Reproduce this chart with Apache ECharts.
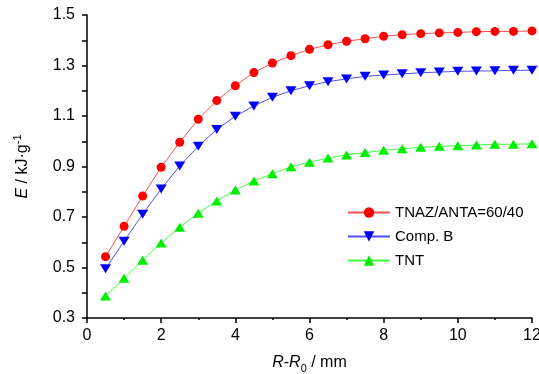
<!DOCTYPE html>
<html>
<head>
<meta charset="utf-8">
<script src="https://cdn.jsdelivr.net/npm/echarts@6/dist/echarts.min.js"></script>
<style>
  html, body { margin: 0; padding: 0; background: #fff; }
  #chart { width: 539px; height: 374px; }
</style>
</head>
<body>
<div id="chart"></div>
<script>
var distance = [0.5, 1, 1.5, 2, 2.5, 3, 3.5, 4, 4.5, 5, 5.5, 6, 6.5, 7, 7.5, 8, 8.5, 9, 9.5, 10, 10.5, 11, 11.5, 12];
var tnazAnta = [0.543, 0.663, 0.783, 0.897, 0.996, 1.087, 1.161, 1.220, 1.272, 1.310, 1.339, 1.364, 1.382, 1.396, 1.406, 1.416, 1.422, 1.426, 1.429, 1.431, 1.434, 1.435, 1.435, 1.437];
var compB = [0.495, 0.604, 0.711, 0.811, 0.902, 0.980, 1.047, 1.099, 1.140, 1.174, 1.200, 1.220, 1.236, 1.247, 1.257, 1.262, 1.267, 1.271, 1.274, 1.277, 1.278, 1.279, 1.281, 1.281];
var tnt = [0.387, 0.457, 0.529, 0.597, 0.659, 0.715, 0.763, 0.807, 0.843, 0.871, 0.899, 0.917, 0.934, 0.946, 0.955, 0.964, 0.970, 0.976, 0.980, 0.982, 0.985, 0.988, 0.988, 0.990];
var seriesNames = ['TNAZ/ANTA=60/40', 'Comp. B', 'TNT'];
var yLabels = [0.3, 0.5, 0.7, 0.9, 1.1, 1.3, 1.5];
var yTicks = [0.3, 0.4, 0.5, 0.6, 0.7, 0.8, 0.9, 1.0, 1.1, 1.2, 1.3, 1.4, 1.5];

function pairs(ys) {
  return ys.map(function (y, i) { return [distance[i], y]; });
}

var font = 'Liberation Sans, Arial, sans-serif';
var myChart = echarts.init(document.getElementById('chart'));
var option = {
  animation: false,
  textStyle: { fontFamily: font },
  grid: { left: 87, right: 7, top: 15, bottom: 56, outerBoundsMode: 'none', containLabel: false },
  legend: {
    orient: 'vertical',
    left: 342,
    top: 200,
    itemWidth: 42,
    itemHeight: 13,
    itemGap: 9,
    textStyle: { fontSize: 15, color: '#000', fontFamily: font },
    data: seriesNames
  },
  xAxis: {
    type: 'value',
    min: 0,
    max: 12,
    interval: 2,
    name: '{i|R}-{i|R}{sub|0} / mm',
    nameLocation: 'middle',
    nameGap: 34,
    nameTextStyle: {
      fontSize: 16, color: '#000', fontFamily: font, lineHeight: 22,
      rich: {
        i: { fontSize: 16, fontStyle: 'italic', fontFamily: font, lineHeight: 22 },
        sub: { fontSize: 11, fontFamily: font, verticalAlign: 'bottom', lineHeight: 11 }
      }
    },
    axisLine: { lineStyle: { color: '#000', width: 1.5 } },
    axisTick: { length: 5, lineStyle: { color: '#000', width: 1.5 } },
    minorTick: { show: true, splitNumber: 2, length: 2, lineStyle: { color: '#000', width: 1.5 } },
    axisLabel: { fontSize: 16, color: '#000', margin: 10 },
    splitLine: { show: false }
  },
  yAxis: {
    type: 'value',
    min: 0.3,
    max: 1.5,
    name: '{i|E} / kJ·g{sup|-1}',
    nameLocation: 'middle',
    nameRotate: 90,
    nameGap: 53,
    nameTextStyle: {
      fontSize: 16, color: '#000', fontFamily: font, lineHeight: 22,
      rich: {
        i: { fontSize: 16, fontStyle: 'italic', fontFamily: font, lineHeight: 22 },
        sup: { fontSize: 11, fontFamily: font, verticalAlign: 'top', lineHeight: 11 }
      }
    },
    axisLine: { show: true, lineStyle: { color: '#000', width: 1.5 } },
    axisTick: { show: true, length: 5, customValues: yTicks, lineStyle: { color: '#000', width: 1.5 } },
    axisLabel: {
      fontSize: 16, color: '#000', margin: 12, customValues: yLabels,
      formatter: function (v) { return v.toFixed(1); }
    },
    splitLine: { show: false }
  },
  series: [
    {
      name: seriesNames[0], type: 'line', data: pairs(tnazAnta),
      symbol: 'circle', symbolSize: 9,
      itemStyle: { color: '#ff0000' },
      lineStyle: { color: '#ff5050', width: 1 }
    },
    {
      name: seriesNames[1], type: 'line', data: pairs(compB),
      symbol: 'triangle', symbolSize: [11, 9], symbolRotate: 180,
      itemStyle: { color: '#0000ff' },
      lineStyle: { color: '#5050ff', width: 1 }
    },
    {
      name: seriesNames[2], type: 'line', data: pairs(tnt),
      symbol: 'triangle', symbolSize: [11, 9],
      itemStyle: { color: '#00ee00' },
      lineStyle: { color: '#40ff40', width: 1 }
    }
  ]
};
myChart.setOption(option, true);
</script>
</body>
</html>
